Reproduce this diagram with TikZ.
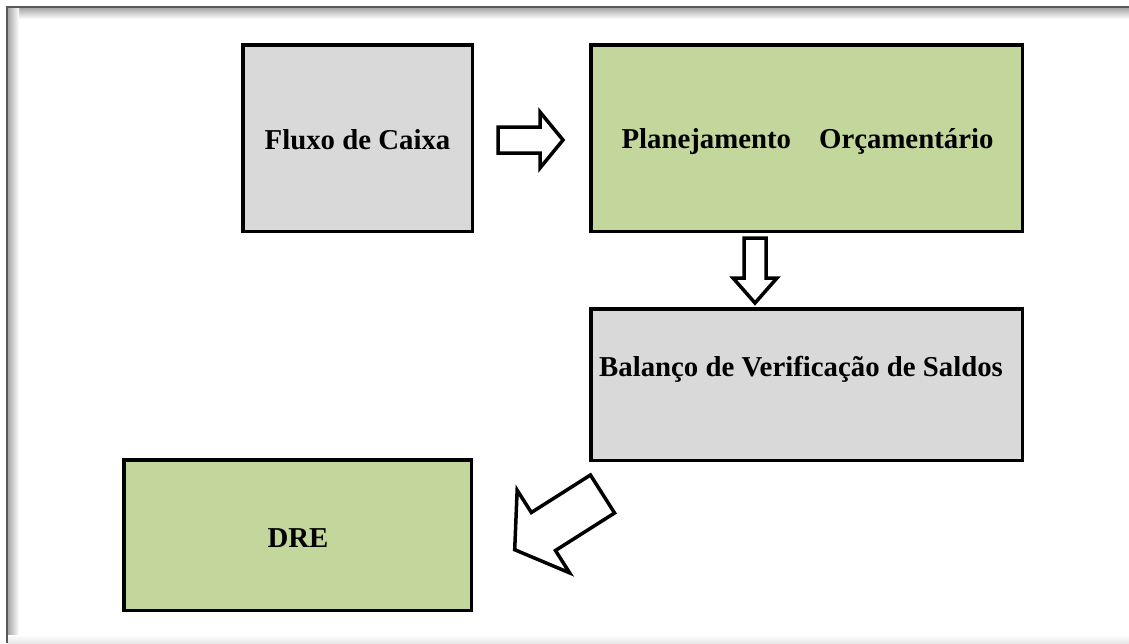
\documentclass[tikz,border=0pt]{standalone}
\usepackage{fontspec}
\setmainfont{Liberation Serif}
\definecolor{boxgray}{HTML}{D9D9D9}
\definecolor{boxgreen}{HTML}{C3D69B}
\begin{document}
\begin{tikzpicture}[x=1pt,y=-1pt,
  box/.style={draw=black, line width=3.5pt, inner sep=0pt},
  boxtext/.style={font=\fontsize{28.8}{34}\selectfont\bfseries, anchor=base, inner sep=0pt},
  blockarrow/.style={draw=black, fill=white, line width=3.5pt, line join=miter}]
\useasboundingbox (0,0) rectangle (1129,643);
\fill[white] (0,0) rectangle (1129,643);
% page frame with inner shadow
\shade[top color=gray!75, bottom color=white] (7,7) rectangle (1129,19);
\shade[left color=gray!75, right color=white] (7,7) rectangle (19,643);
\shade[top color=white, bottom color=gray!18] (7,635) rectangle (1129,643);
\draw[gray!70!black, line width=2.5pt] (7,643) -- (7,7) -- (1129,7);

% boxes
\node[box, fill=boxgray,  minimum width=229.5pt, minimum height=186.5pt] (flux) at (357.5,138) {};
\node[box, fill=boxgreen, minimum width=431.5pt, minimum height=186.5pt] (plan) at (806.5,138) {};
\node[box, fill=boxgray,  minimum width=431.5pt, minimum height=151.5pt] (bal)  at (806.5,384.5) {};
\node[box, fill=boxgreen, minimum width=347.5pt, minimum height=150.5pt] (dre)  at (297.5,535) {};

% labels
\node[boxtext] (fluxlabel) at (357.5,149) {Fluxo de Caixa};
\node[boxtext] (planlabel) at (807.5,148) {Planejamento\hspace{28pt}Orçamentário};
\node[boxtext] (ballabel)  at (801,376)   {Balanço de Verificação de Saldos};
\node[boxtext] (drelabel)  at (298,547)   {DRE};

% block arrows between the boxes
\draw[blockarrow, shift={(498,140)}]
  (0,-13) -- (42,-13) -- (42,-28) -- (65,0) -- (42,28) -- (42,13) -- (0,13) -- cycle;
\draw[blockarrow, shift={(755,238)}, rotate=-90]
  (0,-11) -- (40,-11) -- (40,-22) -- (65,0) -- (40,22) -- (40,11) -- (0,11) -- cycle;
\draw[blockarrow, shift={(602.5,494)}, rotate=212.4]
  (0,-22.5) -- (70,-22.5) -- (70,-49) -- (104,0) -- (70,49) -- (70,22.5) -- (0,22.5) -- cycle;
\end{tikzpicture}
\end{document}
